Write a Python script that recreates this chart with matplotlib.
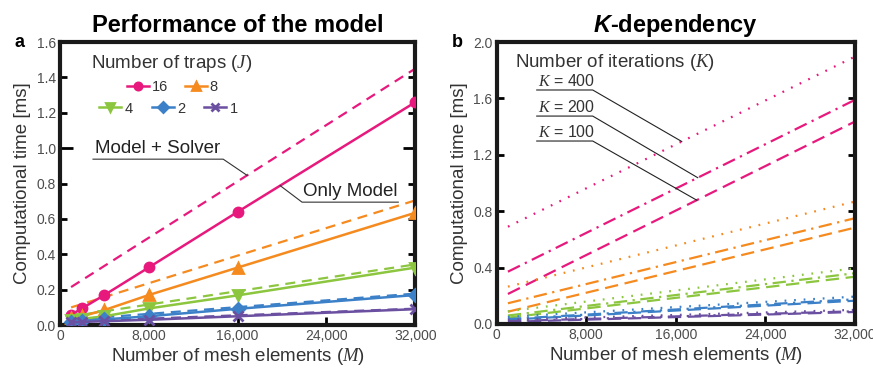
import numpy as np
import matplotlib
matplotlib.use("Agg")
import matplotlib.pyplot as plt

plt.rcParams['font.family'] = ['Liberation Sans', 'DejaVu Sans']
plt.rcParams['mathtext.fontset'] = 'custom'
plt.rcParams['mathtext.it'] = 'Liberation Serif:italic'
plt.rcParams['mathtext.rm'] = 'Liberation Sans'
plt.rcParams['mathtext.bfit'] = 'Liberation Sans:italic:bold'

# data
mesh = [1000, 2000, 4000, 8000, 16000, 32000]
mesh_ends = [1000, 32000]
traps = [16, 8, 4, 2, 1]
colors = ['#e8197d', '#f58a1f', '#8cc63f', '#3c80c8', '#6b4fa0']
markers = ['o', '^', 'v', 'D', 'x']

# only model (measured at each mesh size)
only_16 = [0.058, 0.095, 0.17, 0.326, 0.64, 1.26]
only_8 = [0.038, 0.05, 0.085, 0.17, 0.325, 0.635]
only_4 = [0.028, 0.035, 0.05, 0.094, 0.168, 0.325]
only_2 = [0.02, 0.024, 0.032, 0.05, 0.092, 0.17]
only_1 = [0.015, 0.018, 0.022, 0.03, 0.05, 0.09]
only_model = [only_16, only_8, only_4, only_2, only_1]

# model + solver (fitted lines)
solver_16 = [0.215, 1.45]
solver_8 = [0.1, 0.705]
solver_4 = [0.05, 0.343]
solver_2 = [0.03, 0.178]
solver_1 = [0.02, 0.093]
solver = [solver_16, solver_8, solver_4, solver_2, solver_1]

# K-dependency (fitted lines), rows = traps
k400 = [[0.69, 1.896], [0.265, 0.868], [0.09, 0.395], [0.05, 0.194], [0.03, 0.1]]
k200 = [[0.371, 1.589], [0.147, 0.75], [0.06, 0.36], [0.035, 0.175], [0.02, 0.09]]
k100 = [[0.213, 1.435], [0.087, 0.683], [0.045, 0.335], [0.03, 0.165], [0.015, 0.085]]

fig = plt.figure(figsize=(8.73, 3.69), dpi=100)
ax1 = fig.add_axes([0.0687, 0.119, 0.407, 0.767])
ax2 = fig.add_axes([0.569, 0.122, 0.410, 0.764])

tick_col = '#4d4d4d'
lab_col = '#333333'

def style_axes(ax, ymax, ystep):
    for s in ax.spines.values():
        s.set_linewidth(3)
        s.set_color('#1a1a1a')
    ax.set_xlim(0, 32000)
    ax.set_ylim(0, ymax)
    ax.set_xticks([0, 8000, 16000, 24000, 32000])
    ax.set_xticklabels(['0', '8,000', '16,000', '24,000', '32,000'])
    ax.set_yticks(np.arange(0, ymax + 0.001, ystep))
    ax.set_yticklabels(['%.1f' % v for v in np.arange(0, ymax + 0.001, ystep)])
    ax.tick_params(axis='y', direction='in', left=True, right=True, length=5, width=2,
                   labelsize=10, labelcolor=tick_col, pad=3)
    ax.tick_params(axis='x', direction='in', length=6, width=2, labelsize=10,
                   labelcolor=tick_col, pad=3)
    ax.set_xlabel('Number of mesh elements ($M$)', fontsize=13.5, color=lab_col, labelpad=2)
    ax.set_ylabel('Computational time [ms]', fontsize=13.5, color=lab_col, labelpad=4)

# panel a
handles = []
for i in range(len(traps)):
    ax1.plot(mesh_ends, solver[i], color=colors[i], lw=1.6, dashes=(4.5, 3), zorder=2)
    h, = ax1.plot(mesh, only_model[i], color=colors[i], lw=1.8, marker=markers[i],
                  ms=6.5, mew=2, zorder=3)
    handles.append(h)

style_axes(ax1, 1.6, 0.2)
ax1.set_title('Performance of the model', fontsize=17, fontweight='bold', pad=7)
for t in ax1.yaxis.get_major_ticks():
    if abs(t.get_loc() - 1.0) < 1e-6:
        t.tick1line.set_markersize(9)
        t.tick2line.set_markersize(9)

ax1.text(0.087, 0.926, 'Number of traps ($J$)', transform=ax1.transAxes,
         fontsize=13.5, color=lab_col, va='center')
leg1 = ax1.legend(handles[:2], ['16', '8'], ncol=2, loc='center left',
                  bbox_to_anchor=(0.19, 0.84), frameon=False, borderpad=0,
                  borderaxespad=0, handlelength=1.5, handletextpad=0.15,
                  columnspacing=1.2, fontsize=10.5, markerscale=0.8, labelcolor=lab_col)
ax1.add_artist(leg1)
ax1.legend(handles[2:], ['4', '2', '1'], ncol=3, loc='center left',
           bbox_to_anchor=(0.11, 0.765), frameon=False, borderpad=0,
           borderaxespad=0, handlelength=1.5, handletextpad=0.25,
           columnspacing=1.3, fontsize=10.5, markerscale=0.8, labelcolor=lab_col)

# callouts panel a
tx = 16850
ty = np.interp(tx, mesh_ends, solver_16)
ax1.plot([2975, 14700, tx], [0.938, 0.938, ty], color='#333333', lw=0.8, zorder=4)
ax1.text(3150, 0.95, 'Model + Solver', fontsize=13.5, color='#222222', va='bottom')
tx = 19830
ty = np.interp(tx, mesh, only_16)
ax1.plot([tx, 21800, 30470], [ty, 0.695, 0.695], color='#333333', lw=0.8, zorder=4)
ax1.text(21850, 0.705, 'Only Model', fontsize=13.5, color='#222222', va='bottom')

ax1.text(-0.115, 1.0, 'a', transform=ax1.transAxes, fontsize=13, fontweight='bold',
         va='center', ha='center')

# panel b
for i in range(len(traps)):
    ax2.plot(mesh_ends, k400[i], color=colors[i], lw=1.6, dashes=(0.8, 3.5))
    ax2.plot(mesh_ends, k200[i], color=colors[i], lw=1.6, dashes=(6, 2.5, 1, 2.5))
    ax2.plot(mesh_ends, k100[i], color=colors[i], lw=1.6, dashes=(6, 3))

style_axes(ax2, 2.0, 0.4)
ax2.set_title('$\\mathbfit{K}$-dependency', fontsize=17, fontweight='bold', pad=7)
ax2.text(1600, 1.855, 'Number of iterations ($K$)', fontsize=13.5, color=lab_col,
         va='center')

k_labels = ['$K$ = 400', '$K$ = 200', '$K$ = 100']
k_lines = [k400[0], k200[0], k100[0]]
k_y = [1.66, 1.475, 1.298]
k_tx = [16540, 17970, 17880]
for lab, line, yy, tx in zip(k_labels, k_lines, k_y, k_tx):
    ty = np.interp(tx, mesh_ends, line)
    ax2.plot([3575, 8580, tx], [yy, yy, ty], color='#222222', lw=0.8)
    ax2.text(3700, yy + 0.01, lab, fontsize=11.5, color=lab_col, va='bottom')

ax2.text(-0.11, 1.0, 'b', transform=ax2.transAxes, fontsize=13, fontweight='bold',
         va='center', ha='center')

fig.savefig('out.png', dpi=100)
